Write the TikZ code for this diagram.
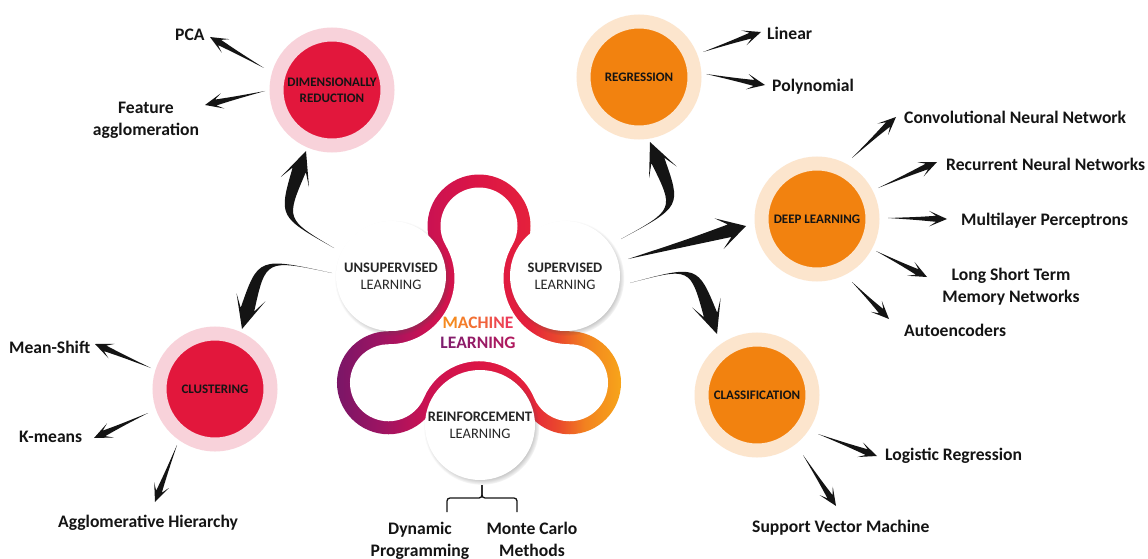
\documentclass[tikz,border=0pt]{standalone}
\usepackage{fontspec}
\setmainfont{Carlito}
\usetikzlibrary{calc,shadows,fadings}

\definecolor{redcore}{HTML}{E2173C}
\definecolor{redring}{HTML}{F8D2DA}
\definecolor{orcore}{HTML}{F2820F}
\definecolor{orring}{HTML}{FCE5CD}
\definecolor{ink}{HTML}{141414}
\definecolor{circleink}{HTML}{262626}
\definecolor{rbA}{HTML}{751668}
\definecolor{rbB}{HTML}{9E1462}
\definecolor{rbC}{HTML}{C91253}
\definecolor{rbD}{HTML}{DB1546}
\definecolor{rbE}{HTML}{E4203C}
\definecolor{rbF}{HTML}{EA4A2C}
\definecolor{rbG}{HTML}{F28220}
\definecolor{rbH}{HTML}{F7A51A}
\definecolor{mOr}{HTML}{F58A1F}
\definecolor{mRd}{HTML}{EC3A5A}
\definecolor{lPu}{HTML}{7E1E6E}
\definecolor{lMg}{HTML}{B0195E}

% colour run of the central ribbon, left to right
\pgfdeclarehorizontalshading{mlribbon}{100bp}{color(0bp)=(rbA); color(25bp)=(rbA); color(34bp)=(rbB); color(41.3bp)=(rbC); color(50bp)=(rbD); color(59bp)=(rbE); color(64.4bp)=(rbF); color(68.8bp)=(rbG); color(75bp)=(rbH); color(100bp)=(rbH)}

% tapered black arrow: tail, bend point, tip, notch depth, barb depth,
% head half-width, body half-width at the head, offset at the bend
\newcommand\swoosh[8]{%
  \coordinate (swN) at ($(#3)!#4!(#2)$);
  \coordinate (swB) at ($(#3)!#5!(#2)$);
  \fill[ink] (#1) .. controls ($(#2)!#8!90:(#3)$) .. ($(swN)!#7!90:(#3)$)
    -- ($(swB)!#6!90:(#3)$) -- (#3) -- ($(swB)!#6!-90:(#3)$)
    -- ($(swN)!#7!-90:(#3)$) .. controls ($(#2)!#8!-90:(#3)$) .. (#1) -- cycle;
}
\newcommand\smallswoosh[2]{%
  \coordinate (swM) at ($(#1)!0.5!(#2)$);
  \swoosh{#1}{swM}{#2}{11pt}{18pt}{7.8pt}{3pt}{1.5pt}%
}

\tikzset{
  trefoil/.style n args={3}{insert path={
    ($(479,226)+(150:#1)$)
    arc[start angle=150, end angle=390, radius=#1]
    arc[start angle=210, end angle=90, radius=#2]
    arc[start angle=270, end angle=517.1, radius=#1]
    arc[start angle=337.1, end angle=202.9, radius=#3]
    arc[start angle=382.9, end angle=630, radius=#1]
    arc[start angle=90, end angle=-30, radius=#2]
    -- cycle}},
  wcirc/.style={circle, fill=white, minimum size=110pt, inner sep=0pt,
    align=center, text=circleink, font=\fontsize{14.5}{17}\selectfont,
    circular drop shadow={shadow xshift=1.5pt, shadow yshift=-2pt,
      shadow scale=1.05, fill=black!70, opacity=.45}},
  catbase/.style={circle, line width=14pt, minimum size=111pt,
    inner sep=0pt, align=center, text=ink,
    font=\fontsize{13}{16}\selectfont\bfseries},
  catred/.style={catbase, fill=redcore, draw=redring},
  catorange/.style={catbase, fill=orcore, draw=orring},
  lbl/.style={inner sep=0pt, text=ink, font=\fontsize{17.6}{22}\selectfont\bfseries},
  bracestyle/.style={draw=ink, line width=1.3pt, rounded corners=3pt}
}

\begin{document}
\begin{tikzpicture}[x=1pt, y=-1pt]
\useasboundingbox (0,0) rectangle (1148,559);
\fill[white] (0,0) rectangle (1148,559);

% central ribbon
\shade[shading=mlribbon, trefoil={51.5}{53}{46.75}];
\fill[white, trefoil={38.5}{66}{59.75}];

% learning styles
\node[wcirc] (unsup) at (391,276) {\textbf{UNSUPERVISED}\\LEARNING};
\node[wcirc] (sup) at (565,276) {\textbf{SUPERVISED}\\LEARNING};
\node[wcirc] (reinf) at (480,425) {\textbf{REINFORCEMENT}\\LEARNING};

\node[align=center, inner sep=0pt, font=\fontsize{17.5}{19.5}\selectfont\bfseries] (mltitle) at (478,333)
  {{\color{mOr}M}{\color{mOr!83!mRd}A}{\color{mOr!67!mRd}C}{\color{mOr!50!mRd}H}{\color{mOr!33!mRd}I}{\color{mOr!17!mRd}N}{\color{mRd}E}\\
   {\color{lPu}L}{\color{lPu!86!lMg}E}{\color{lPu!72!lMg}A}{\color{lPu!58!lMg}R}{\color{lPu!44!lMg}N}{\color{lPu!30!lMg}I}{\color{lPu!15!lMg}N}{\color{lMg}G}};

% categories
\node[catred] (dimred) at (332,90) {DIMENSIONALLY\\REDUCTION};
\node[catorange] (regr) at (639,77) {REGRESSION};
\node[catorange] (deep) at (817,219) {DEEP LEARNING};
\node[catorange] (classif) at (757,395) {CLASSIFICATION};
\node[catred] (clust) at (215,389) {CLUSTERING};

% methods
\node[lbl, anchor=base west] (pca) at (175,41) {PCA};
\node[lbl, align=center] (feat) at (146,120.3) {Feature\\agglomeration};
\node[lbl, anchor=base west] (lin) at (767,40) {Linear};
\node[lbl, anchor=base west] (poly) at (772,92) {Polynomial};
\node[lbl, anchor=base west] (cnn) at (904,124) {Convolutional Neural Network};
\node[lbl, anchor=base west] (rnn) at (946,170) {Recurrent Neural Networks};
\node[lbl, anchor=base west] (mlp) at (961,225) {Multilayer Perceptrons};
\node[lbl, align=center] (lstm) at (1011,287) {Long Short Term\\Memory Networks};
\node[lbl, anchor=base west] (auto) at (904,336) {Autoencoders};
\node[lbl, anchor=base west] (mshift) at (9,353) {Mean-Shift};
\node[lbl, anchor=base west] (kmeans) at (19,442) {K-means};
\node[lbl, anchor=base west] (agglo) at (58,527) {Agglomerative Hierarchy};
\node[lbl, anchor=base west] (logit) at (885,460) {Logistic Regression};
\node[lbl, anchor=base west] (svm) at (752,532) {Support Vector Machine};
\node[lbl, align=center] (dynprog) at (420,541) {Dynamic\\Programming};
\node[lbl, align=center] (montec) at (532,539) {Monte Carlo\\Methods};

% brace under reinforcement learning
\coordinate (brL) at (447,512);
\coordinate (brR) at (517,512);
\coordinate (brM) at (482,498);
\coordinate (brTop) at (482,485);
\draw[bracestyle] (brL) |- (brM) -- (brTop);
\draw[bracestyle] (brR) |- (brM) -- (brTop);

% large arrows out of the learning styles
\coordinate (uAt) at (334,248); \coordinate (uAc) at (282,218); \coordinate (uAh) at (306,151);
\coordinate (uBt) at (332,273); \coordinate (uBc) at (262,258); \coordinate (uBh) at (242,329);
\coordinate (sAt) at (621,239); \coordinate (sAc) at (678,208); \coordinate (sAh) at (650,142);
\coordinate (sBt) at (628,259); \coordinate (sBc) at (687,243); \coordinate (sBh) at (746,226);
\coordinate (sCt) at (630,283); \coordinate (sCc) at (694,266); \coordinate (sCh) at (717,334);
\swoosh{uAt}{uAc}{uAh}{20pt}{33pt}{15pt}{7pt}{3.8pt}
\swoosh{uBt}{uBc}{uBh}{20pt}{33pt}{15pt}{7pt}{3.8pt}
\swoosh{sAt}{sAc}{sAh}{20pt}{33pt}{15pt}{7pt}{3.8pt}
\swoosh{sBt}{sBc}{sBh}{17pt}{28pt}{16pt}{6.5pt}{3.3pt}
\swoosh{sCt}{sCc}{sCh}{20pt}{33pt}{15pt}{7pt}{3.8pt}

% small arrows out of the categories
\coordinate (t1) at (264,68);  \coordinate (h1) at (210,37);
\coordinate (t2) at (265,91);  \coordinate (h2) at (205,105);
\coordinate (t3) at (703,52);  \coordinate (h3) at (761,32);
\coordinate (t4) at (706,74);  \coordinate (h4) at (765,85);
\coordinate (t5) at (852,158); \coordinate (h5) at (896,117);
\coordinate (t6) at (878,188); \coordinate (h6) at (937,162);
\coordinate (t7) at (888,218); \coordinate (h7) at (947,219);
\coordinate (t8) at (876,251); \coordinate (h8) at (927,277);
\coordinate (t9) at (852,282); \coordinate (h9) at (889,319);
\coordinate (t10) at (818,434); \coordinate (h10) at (877,456);
\coordinate (t11) at (803,455); \coordinate (h11) at (836,506);
\coordinate (t12) at (151,368); \coordinate (h12) at (95,344);
\coordinate (t13) at (148,413); \coordinate (h13) at (94,438);
\coordinate (t14) at (177,445); \coordinate (h14) at (155,502);
\foreach \k in {1,...,14} {\smallswoosh{t\k}{h\k}}
\end{tikzpicture}
\end{document}
